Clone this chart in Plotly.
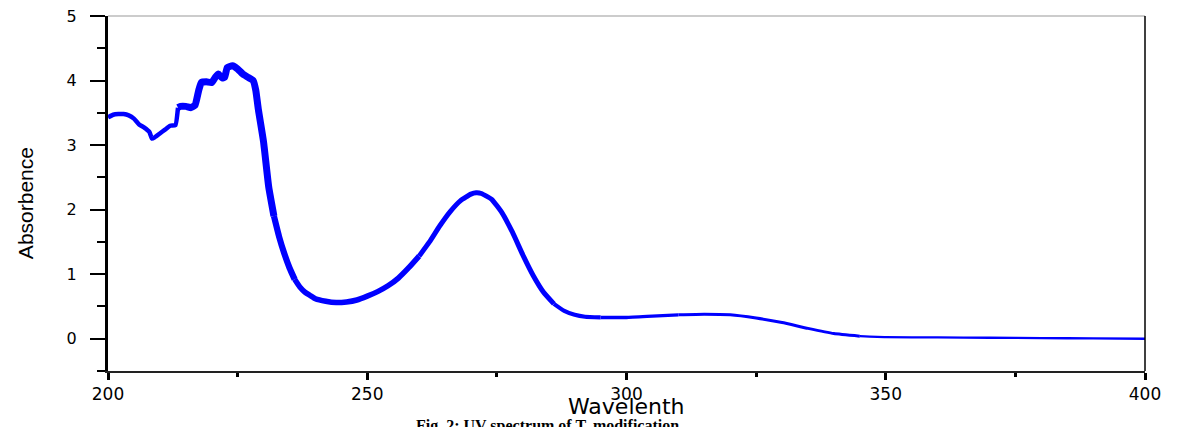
import plotly.graph_objects as go

wavelength = [200, 201, 202, 203, 204, 205, 206, 207, 208, 208.5, 209, 210, 211, 212, 213,
              213.5, 214, 215, 216, 216.8, 217.5, 218, 219, 220, 220.7, 221.3, 222, 222.5,
              223, 224, 225, 226, 227, 228, 228.5, 229, 230, 231, 232, 233, 234, 235, 236,
              237, 238, 239, 240, 242, 244, 246, 248, 250, 252, 254, 256, 258, 260, 262,
              264, 266, 268, 270, 271, 272, 274, 276, 278, 280, 282, 284, 286, 288, 290,
              292, 295, 300, 305, 310, 315, 320, 325, 330, 335, 340, 345, 350, 360, 370,
              380, 390, 400]
absorbance = [3.43, 3.47, 3.48, 3.48, 3.46, 3.41, 3.32, 3.27, 3.2, 3.1, 3.12, 3.18, 3.24, 3.3, 3.31,
              3.58, 3.6, 3.6, 3.58, 3.62, 3.85, 3.97, 3.98, 3.97, 4.05, 4.1, 4.04, 4.05,
              4.2, 4.23, 4.18, 4.1, 4.05, 4.0, 3.85, 3.55, 3.05, 2.35, 1.9, 1.58, 1.32, 1.1, 0.92,
              0.8, 0.72, 0.67, 0.62, 0.58, 0.56, 0.57, 0.6, 0.66, 0.73, 0.82, 0.94, 1.1, 1.28, 1.5,
              1.75, 1.97, 2.14, 2.24, 2.26, 2.25, 2.16, 1.95, 1.65, 1.3, 0.98, 0.72, 0.54, 0.43, 0.37,
              0.34, 0.33, 0.33, 0.35, 0.37, 0.38, 0.37, 0.32, 0.25, 0.16, 0.08, 0.04, 0.025, 0.02, 0.015,
              0.01, 0.005, 0.0]

x_ticks = [200, 250, 300, 350, 400]
y_ticks = [0, 1, 2, 3, 4, 5]
x_title = "Wavelenth"
y_title = "Absorbence"
caption = "<b>Fig. 2: UV spectrum of T. modification</b>"

# stroke width varies along the trace in the reference (segment ends are shared data points)
segments = [(200, 213.5, 4.5), (213.5, 232, 7), (232, 236, 6.2), (236, 260, 5.5),
            (260, 286, 5), (286, 295, 4.2), (295, 310, 3.4), (310, 345, 3), (345, 400, 2.3)]

fig = go.Figure()
for lo, hi, w in segments:
    xs = [x for x in wavelength if lo <= x <= hi]
    ys = [a for x, a in zip(wavelength, absorbance) if lo <= x <= hi]
    fig.add_trace(go.Scatter(x=xs, y=ys, mode="lines",
                             line=dict(color="#0000ff", width=w, shape="spline", smoothing=0.4),
                             showlegend=False, hoverinfo="skip"))

fig.update_layout(
    width=1182, height=427,
    margin=dict(l=100, r=45, t=8, b=64),
    plot_bgcolor="white", paper_bgcolor="white",
    xaxis=dict(range=[200, 400], tickvals=x_ticks, ticks="outside", ticklen=7, tickwidth=3,
               tickcolor="black", showline=True, linecolor="#222", linewidth=2,
               showgrid=False, zeroline=False, automargin=False, ticklabeloverflow="allow",
               tickfont=dict(family="DejaVu Sans", size=17, color="black"),
               minor=dict(dtick=25, tick0=200, ticks="outside", ticklen=4, tickwidth=3, tickcolor="black")),
    yaxis=dict(range=[-0.5, 5], tickvals=y_ticks, ticks="outside", ticklen=15, tickwidth=1.5,
               tickcolor="black", showline=True, linecolor="black", linewidth=3,
               showgrid=False, zeroline=False, automargin=False, ticklabelstandoff=10,
               ticklabeloverflow="allow",
               tickfont=dict(family="DejaVu Sans", size=16, color="black"),
               minor=dict(dtick=0.5, tick0=0, ticks="outside", ticklen=8, tickwidth=1.5, tickcolor="black")),
)
fig.add_shape(type="line", xref="paper", yref="paper", x0=0, x1=1, y0=1, y1=1,
              line=dict(color="#999", width=1.2))
fig.add_shape(type="line", xref="paper", yref="paper", x0=1, x1=1, y0=0, y1=1,
              line=dict(color="black", width=1.5))
fig.add_annotation(text=x_title, xref="paper", yref="paper", x=0.5, y=-0.099,
                   xanchor="center", yanchor="middle", showarrow=False, borderpad=0,
                   font=dict(family="DejaVu Sans", size=22, color="black"))
fig.add_annotation(text=y_title, xref="paper", yref="paper", x=-0.080, y=0.473, textangle=-90,
                   xanchor="center", yanchor="middle", showarrow=False,
                   font=dict(family="Liberation Sans Narrow, Liberation Sans", size=21, color="black"))
fig.add_annotation(text=caption, xref="paper", yref="paper",
                   x=0.296, y=-0.126, xanchor="left", yanchor="top", showarrow=False, borderpad=0,
                   font=dict(family="Liberation Serif", size=16, color="black"))

fig.write_html("out.html")
